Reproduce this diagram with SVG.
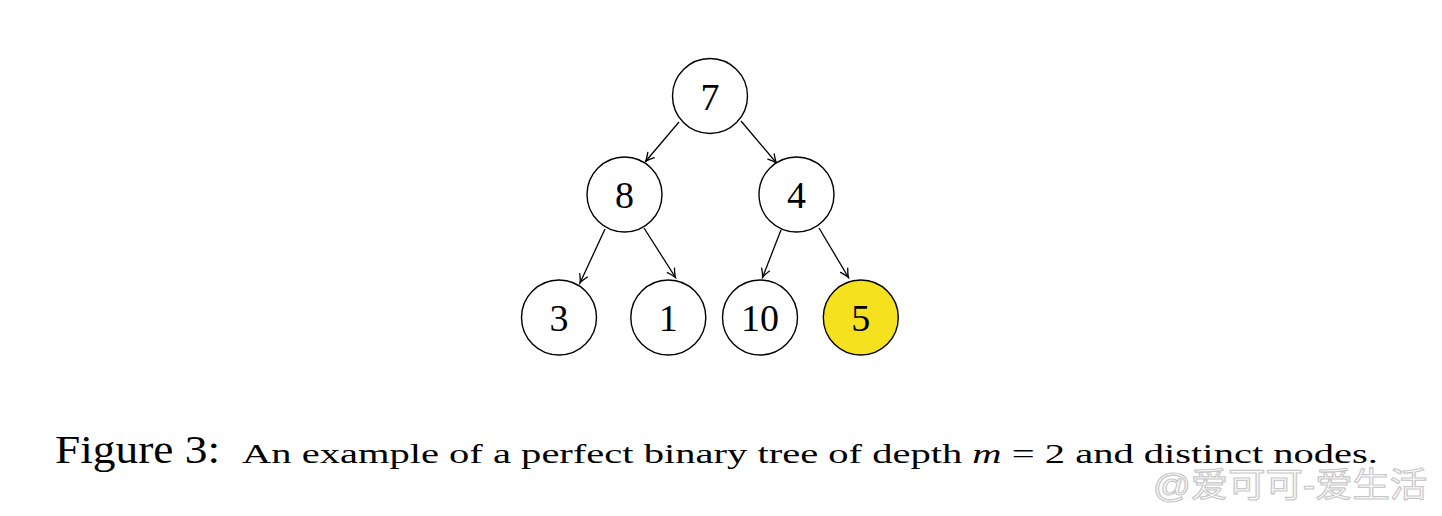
<svg xmlns="http://www.w3.org/2000/svg" width="1442" height="516" viewBox="0 0 1442 516">
<style>
.node circle{fill:#fff;stroke:#000;stroke-width:1.4}
.node text{font-family:"Liberation Serif","DejaVu Serif",serif;font-size:38px;text-anchor:middle;fill:#000}
.edge{stroke:#000;stroke-width:1.3;fill:none;marker-end:url(#arr)}
.cap{font-family:"Liberation Serif","DejaVu Serif",serif;fill:#000}
.wm{font-family:"Liberation Sans","Noto Sans CJK SC",sans-serif;font-size:34px;fill:#fff;stroke:#c8c8c8;stroke-width:1.2}
</style>
<defs>
<marker id="arr" viewBox="-10 -6 12 12" refX="0" refY="0" markerWidth="12" markerHeight="12" markerUnits="userSpaceOnUse" orient="auto">
<path d="M-8.5,-4.2 Q-3,-0.8 0,0 Q-3,0.8 -8.5,4.2" fill="none" stroke="#000" stroke-width="1.3" stroke-linecap="round"/>
</marker>
</defs>
<rect width="1442" height="516" fill="#fff"/>
<g id="connectors">
<line class="edge" x1="679" y1="122" x2="645.5" y2="161.5"/>
<line class="edge" x1="741" y1="121" x2="776.5" y2="163"/>
<line class="edge" x1="605" y1="229" x2="580" y2="283"/>
<line class="edge" x1="644" y1="228" x2="675.5" y2="277.5"/>
<line class="edge" x1="781" y1="230" x2="762.5" y2="277.5"/>
<line class="edge" x1="819" y1="228" x2="848.5" y2="277.5"/>
</g>
<g id="n7" class="node"><circle cx="710" cy="96" r="37.5"/><text x="710" y="109.5">7</text></g>
<g id="n8" class="node"><circle cx="624.5" cy="194.5" r="37.5"/><text x="624.5" y="208">8</text></g>
<g id="n4" class="node"><circle cx="796.5" cy="194.5" r="37.5"/><text x="796.5" y="208">4</text></g>
<g id="n3" class="node"><circle cx="559" cy="317.5" r="37.5"/><text x="559" y="331">3</text></g>
<g id="n1" class="node"><circle cx="668.3" cy="317.5" r="37.5"/><text x="668.3" y="331">1</text></g>
<g id="n10" class="node"><circle cx="760" cy="317.5" r="37.5"/><text x="760" y="331">10</text></g>
<g id="n5" class="node"><circle cx="860.8" cy="317.5" r="37.5" style="fill:#F6E11F"/><text x="860.8" y="331">5</text></g>
<g id="caption">
<text class="cap" x="55" y="463" font-size="40" textLength="165" lengthAdjust="spacingAndGlyphs">Figure 3:</text>
<text class="cap" x="242" y="463" font-size="28" textLength="1136" lengthAdjust="spacingAndGlyphs">An example of a perfect binary tree of depth <tspan font-style="italic">m</tspan> = 2 and distinct nodes.</text>
</g>
<text class="wm" x="1153" y="497" textLength="274" lengthAdjust="spacingAndGlyphs">@爱可可-爱生活</text>
</svg>
